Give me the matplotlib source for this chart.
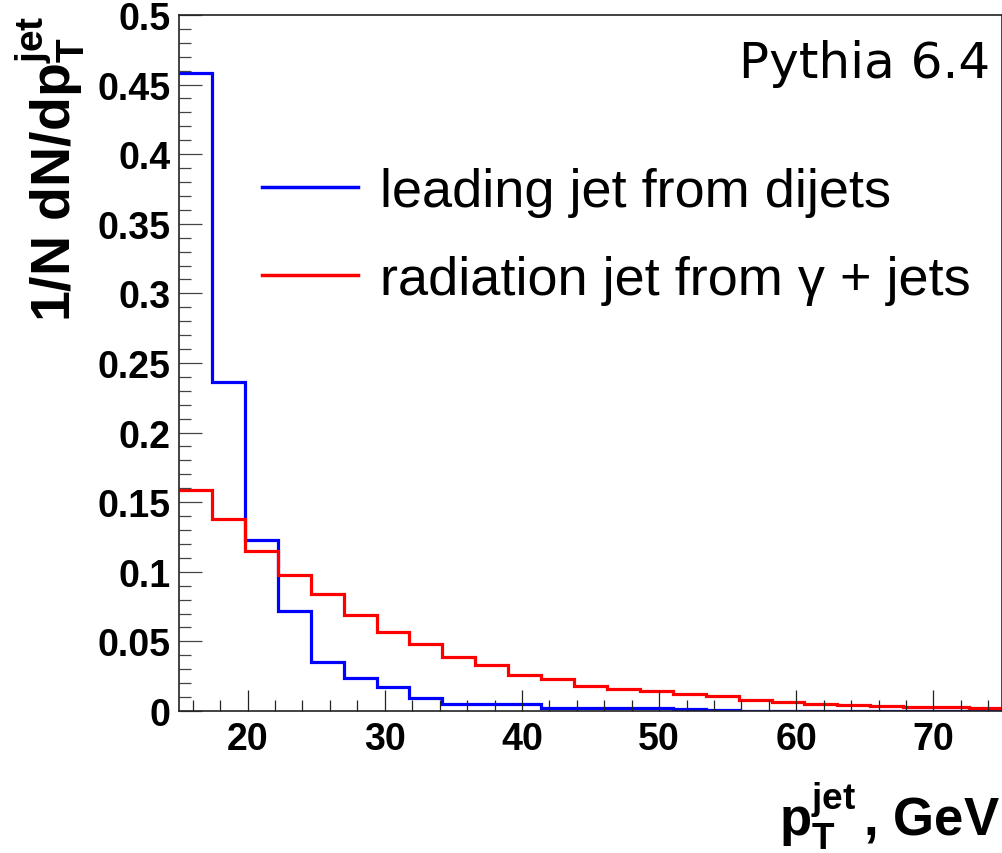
import numpy as np
import matplotlib
matplotlib.use('Agg')
import matplotlib.pyplot as plt
from matplotlib.ticker import MultipleLocator, FixedLocator, FixedFormatter

plt.rcParams['mathtext.fontset'] = 'custom'
plt.rcParams['mathtext.rm'] = 'Liberation Sans'
plt.rcParams['mathtext.bf'] = 'Liberation Sans:bold'
plt.rcParams['mathtext.it'] = 'Liberation Sans:italic'

# bin edges of the pT histograms (25 bins, 15 - 75 GeV)
pt_edges = np.linspace(15, 75, 26)

# leading jet from dijets
dijet_lead = [0.458, 0.236, 0.123, 0.072, 0.035, 0.024, 0.017, 0.0093, 0.005,
              0.0048, 0.0048, 0.0024, 0.0024, 0.0024, 0.0022, 0.0012, 0.0004,
              0.0003, 0.0003, 0.0002, 0.0002, 0.0001, 0.0001, 0.0001, 0.0001]
# radiation jet from gamma + jets
gamjet_rad = [0.159, 0.138, 0.115, 0.098, 0.084, 0.069, 0.057, 0.048, 0.039,
              0.033, 0.026, 0.023, 0.018, 0.016, 0.014, 0.012, 0.0105, 0.008,
              0.0067, 0.0053, 0.0043, 0.0036, 0.0031, 0.0026, 0.0022]

yticks = [0, 0.05, 0.1, 0.15, 0.2, 0.25, 0.3, 0.35, 0.4, 0.45, 0.5]
ytick_labels = ['0', '0.05', '0.1', '0.15', '0.2', '0.25', '0.3', '0.35', '0.4', '0.45', '0.5']
xticks = [20, 30, 40, 50, 60, 70]

fig = plt.figure(figsize=(10.03, 8.54), dpi=100)
ax = fig.add_axes([0.1785, 0.1663, 0.8205, 0.815])

ax.stairs(dijet_lead, pt_edges, color='#0000ff', linewidth=2.3, baseline=None,
          label='leading jet from dijets')
ax.stairs(gamjet_rad, pt_edges, color='#ff0000', linewidth=2.3, baseline=None,
          label='radiation jet from γ + jets')

ax.set_xlim(15, 75)
ax.set_ylim(0, 0.5)

ax.yaxis.set_major_locator(FixedLocator(yticks))
ax.yaxis.set_major_formatter(FixedFormatter(ytick_labels))
ax.yaxis.set_minor_locator(MultipleLocator(0.01))
ax.xaxis.set_major_locator(FixedLocator(xticks))
ax.xaxis.set_minor_locator(MultipleLocator(2))

ax.tick_params(axis='y', which='major', direction='in', length=16.5, width=0.9, color='#444444', pad=6)
ax.tick_params(axis='y', which='minor', direction='in', length=8.6, width=0.9, color='#444444')
ax.tick_params(axis='x', which='major', direction='in', length=15, width=0.9, color='#222222', pad=7)
ax.tick_params(axis='x', which='minor', direction='in', length=8, width=0.9, color='#222222')
for lab in ax.get_xticklabels() + ax.get_yticklabels():
    lab.set_fontfamily('Liberation Sans')
    lab.set_fontweight('bold')
    lab.set_fontsize(27)

for sp in ax.spines.values():
    sp.set_linewidth(1.2)
    sp.set_color('#222222')

leg = ax.legend(loc='upper left', bbox_to_anchor=(0.068, 0.821), frameon=False,
                prop={'family': 'Liberation Sans', 'size': 39},
                handlelength=1.78, handletextpad=0.4, labelspacing=0.71, borderpad=0)
for l in leg.get_lines():
    l.set_linewidth(2.5)

ax.text(0.985, 0.965, 'Pythia 6.4', transform=ax.transAxes, ha='right', va='top',
        fontsize=36, family='DejaVu Sans')

fig.text(13 / 1003, 1 - 16 / 854, r'$\mathbf{1/N\ dN/dp_{T}^{jet}}$', rotation=90,
         ha='left', va='top', fontsize=40)
fig.text(1000 / 1003, 2 / 854, r'$\mathbf{p_{T}^{jet}\,}$, GeV', ha='right', va='bottom',
         fontsize=38, family='Liberation Sans', fontweight='bold')

fig.savefig('out.png', dpi=100)
